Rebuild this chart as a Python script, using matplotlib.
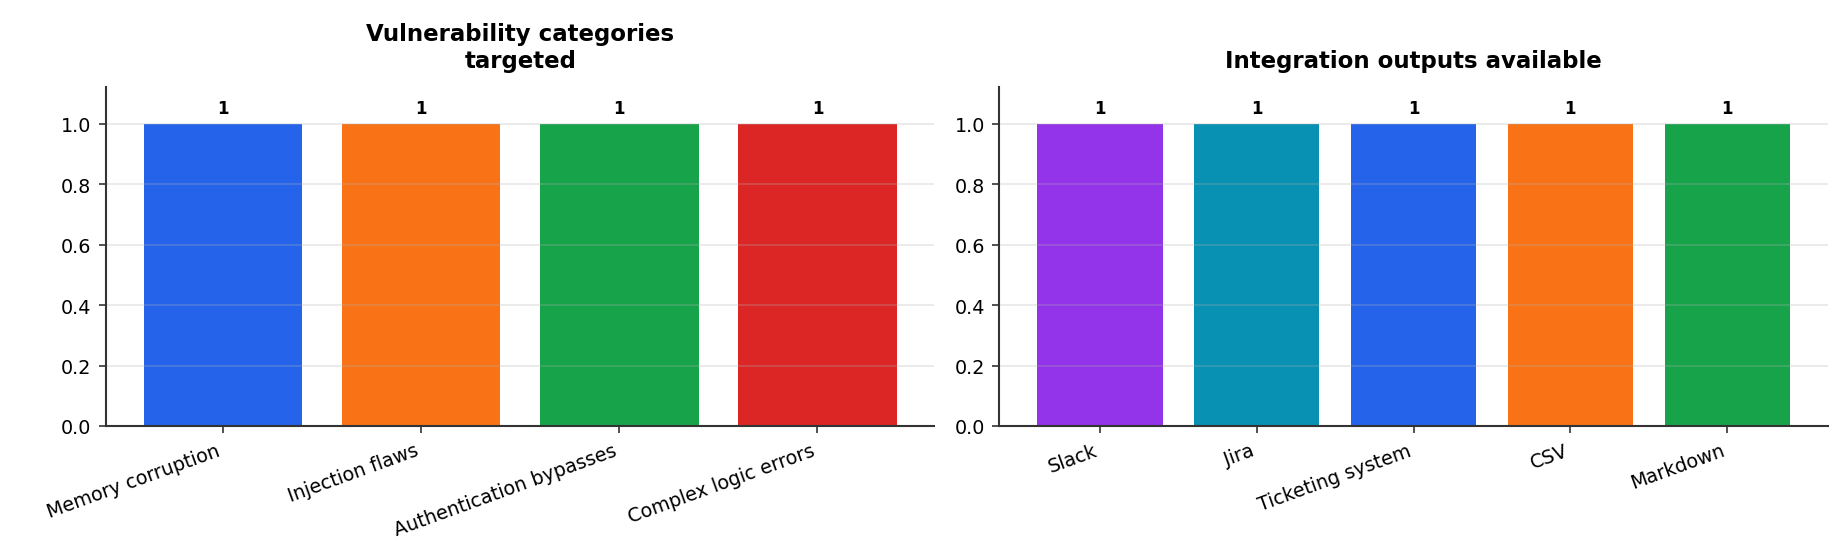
import matplotlib
matplotlib.use("Agg")
import matplotlib.pyplot as plt

vuln_categories = ["Memory corruption", "Injection flaws", "Authentication bypasses", "Complex logic errors"]
vuln_values = [1, 1, 1, 1]
vuln_colors = ["#2563eb", "#f97316", "#16a34a", "#dc2626"]

integ_categories = ["Slack", "Jira", "Ticketing system", "CSV", "Markdown"]
integ_values = [1, 1, 1, 1, 1]
integ_colors = ["#9333ea", "#0891b2", "#2563eb", "#f97316", "#16a34a"]

titles = ["Vulnerability categories\ntargeted", "Integration outputs available"]

fig, axes = plt.subplots(1, 2, figsize=(12.32, 3.7333), dpi=150)
fig.subplots_adjust(left=0.0574, right=0.989, top=0.842, bottom=0.2375, wspace=0.0785)

for ax, cats, vals, cols, title in zip(
    axes,
    [vuln_categories, integ_categories],
    [vuln_values, integ_values],
    [vuln_colors, integ_colors],
    titles,
):
    x = list(range(len(cats)))
    bars = ax.bar(x, vals, color=cols, width=0.8)
    ax.set_ylim(0, max(vals) * 1.12)
    ax.set_xticks(x)
    ax.set_xticklabels(cats, rotation=20, ha="right", fontsize=9.2)
    ax.tick_params(axis="y", labelsize=9.2)
    ax.set_title(title, fontsize=11, fontweight="bold", pad=10)
    ax.grid(axis="y", alpha=0.3)
    for s in ["top", "right"]:
        ax.spines[s].set_visible(False)
    for s in ["left", "bottom"]:
        ax.spines[s].set_color("#333333")
        ax.spines[s].set_linewidth(1.0)
    ax.tick_params(colors="#333333", labelcolor="black")
    for b, v in zip(bars, vals):
        ax.annotate(f"{v}", (b.get_x() + b.get_width() / 2, b.get_height()),
                    xytext=(0, 3), textcoords="offset points",
                    ha="center", va="bottom", fontsize=8, fontweight="bold")

fig.savefig("out.png", dpi=150)
